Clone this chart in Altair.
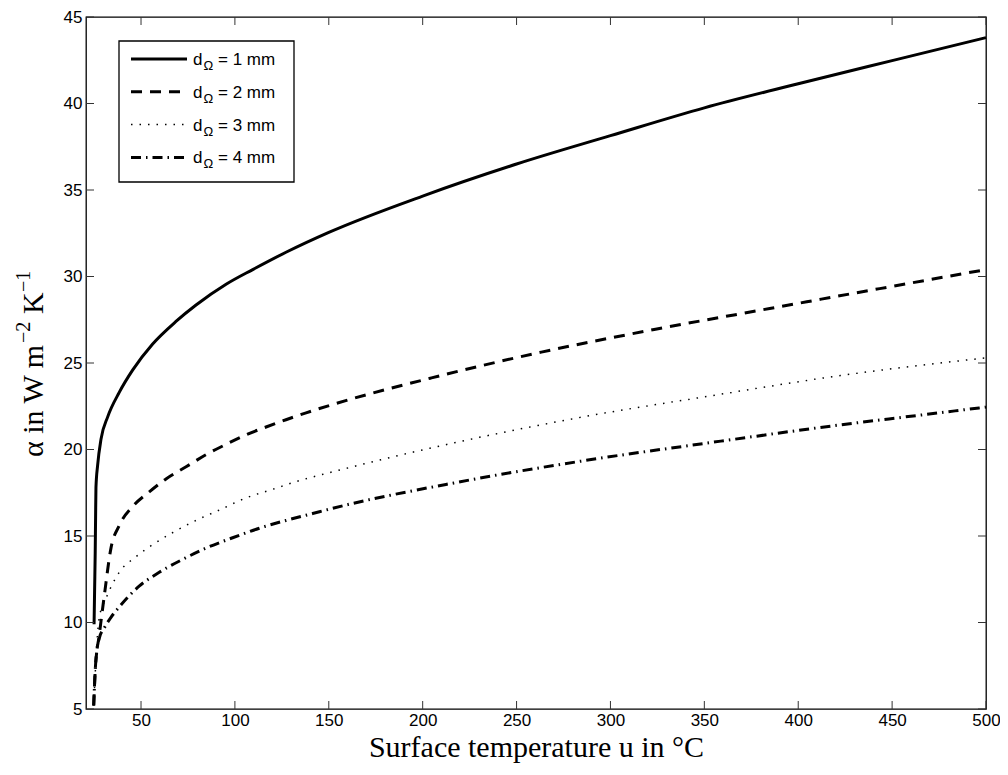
import altair as alt
import pandas as pd

# ---------------- data ----------------
x_domain = [20.7, 500]
y_domain = [5, 45]
x_ticks = [50, 100, 150, 200, 250, 300, 350, 400, 450, 500]
y_ticks = [5, 10, 15, 20, 25, 30, 35, 40, 45]

u_d1 = [25.0, 25.3, 25.6, 25.8, 26.0, 26.9, 28.7, 32.3, 38.4, 45.6, 56.2, 68.6, 79.3,
        95.3, 109.5, 127.2, 150, 200, 250, 300, 350, 400, 450, 500]
a_d1 = [9.9, 12.0, 14.0, 16.0, 17.8, 19.1, 20.6, 21.9, 23.3, 24.6, 26.1, 27.4, 28.35,
        29.55, 30.4, 31.4, 32.55, 34.65, 36.5, 38.14, 39.75, 41.14, 42.48, 43.81]

u_d2 = [24.8, 25.7, 27.8, 30.5, 34, 38.4, 46.4, 54.4, 63.3, 74, 84.6, 95.3, 105.9,
        116.6, 127.2, 137.9, 152, 204.7, 263.2, 324, 384.8, 443.4, 500]
a_d2 = [5.2, 7.4, 9.3, 11.6, 14.3, 15.6, 16.8, 17.55, 18.3, 19.0, 19.7, 20.3, 20.85,
        21.3, 21.72, 22.12, 22.6, 24.14, 25.63, 26.95, 28.15, 29.3, 30.4]

u_d3 = [24.8, 25.5, 26.5, 27.8, 31.4, 38.4, 47.3, 56.2, 66.9, 79.3, 91.7, 105.9,
        120.1, 134.3, 150.3, 218.2, 285.7, 353.3, 420.8, 500]
a_d3 = [5.2, 6.8, 8.8, 10.3, 11.4, 12.9, 13.8, 14.5, 15.2, 15.9, 16.5, 17.2,
        17.7, 18.2, 18.66, 20.42, 21.89, 23.1, 24.25, 25.3]

u_d4 = [24.8, 25.5, 26.5, 27.8, 30.5, 34, 38.4, 49, 59.7, 72.2, 84.6, 98.8, 113,
        127.2, 141.4, 152, 218.2, 285.7, 353.3, 420.8, 465.9, 500]
a_d4 = [5.2, 7.0, 8.4, 9.1, 9.7, 10.3, 10.9, 12.1, 12.9, 13.65, 14.3, 14.9, 15.45,
        15.9, 16.3, 16.6, 18.1, 19.35, 20.4, 21.4, 22.0, 22.45]

series_names = ["1 mm", "2 mm", "3 mm", "4 mm"]
legend_text = ["= 1 mm", "= 2 mm", "= 3 mm", "= 4 mm"]

frames = []
for name, u, a in zip(series_names, [u_d1, u_d2, u_d3, u_d4], [a_d1, a_d2, a_d3, a_d4]):
    frames.append(pd.DataFrame({"u": u, "alpha": a, "series": name}))
df = pd.concat(frames, ignore_index=True)

# ---------------- styling ----------------
W, H = 900, 692
TICK = 8
xs = alt.Scale(domain=x_domain, nice=False, zero=False)
ys = alt.Scale(domain=y_domain, nice=False, zero=False)

x_axis = alt.Axis(
    values=x_ticks, grid=False, ticks=False, tickSize=0, domain=False,
    labelFont="Liberation Sans", labelFontSize=17, labelColor="black",
    labelPadding=3, labelFlush=False,
    title="Surface temperature u in °C", titleFont="Liberation Serif",
    titleFontSize=30, titleFontWeight="normal", titleColor="black",
    titleBaseline="alphabetic", titleY=47, titleX=W / 2, titleAlign="center")
y_axis = alt.Axis(
    values=y_ticks, grid=False, ticks=False, tickSize=0, domain=False,
    labelFont="Liberation Sans", labelFontSize=17, labelColor="black",
    labelPadding=4, labelFlush=False, title=None)

styles = {
    "1 mm": dict(strokeWidth=3),
    "2 mm": dict(strokeWidth=3, strokeDash=[11, 8]),
    "3 mm": dict(strokeWidth=1.5, strokeDash=[1.5, 7]),
    "4 mm": dict(strokeWidth=3, strokeDash=[10, 5, 1.5, 5]),
}

one = pd.DataFrame({"k": [0]})
layers = []

# main curves
for name in series_names:
    layers.append(
        alt.Chart(df).transform_filter(alt.datum.series == name)
        .mark_line(color="black", interpolate="monotone", **styles[name])
        .encode(x=alt.X("u:Q", scale=xs, axis=x_axis),
                y=alt.Y("alpha:Q", scale=ys, axis=y_axis))
    )

# inward ticks (box style, all four sides)
xt = pd.DataFrame({"u": x_ticks})
yt = pd.DataFrame({"alpha": y_ticks})
tick_col = "#333333"
layers.append(alt.Chart(xt).mark_rule(color=tick_col, strokeWidth=1).encode(
    x=alt.X("u:Q", scale=xs, axis=x_axis), y=alt.value(H), y2=alt.value(H - TICK)))
layers.append(alt.Chart(xt).mark_rule(color=tick_col, strokeWidth=1).encode(
    x=alt.X("u:Q", scale=xs, axis=x_axis), y=alt.value(0), y2=alt.value(TICK)))
layers.append(alt.Chart(yt).mark_rule(color=tick_col, strokeWidth=1).encode(
    y=alt.Y("alpha:Q", scale=ys, axis=y_axis), x=alt.value(0), x2=alt.value(TICK)))
layers.append(alt.Chart(yt).mark_rule(color=tick_col, strokeWidth=1).encode(
    y=alt.Y("alpha:Q", scale=ys, axis=y_axis), x=alt.value(W), x2=alt.value(W - TICK)))

# legend box
layers.append(alt.Chart(one).mark_rect(fill="white", stroke="black", strokeWidth=1.3).encode(
    x=alt.value(33), x2=alt.value(208), y=alt.value(24), y2=alt.value(165)))
row_y = [42, 74.8, 107.6, 140.4]
for name, txt, ry in zip(series_names, legend_text, row_y):
    layers.append(alt.Chart(one).mark_rule(color="black", **styles[name]).encode(
        x=alt.value(45), x2=alt.value(101), y=alt.value(ry)))
    layers.append(alt.Chart(one).mark_text(
        font="Liberation Sans", fontSize=17, align="left", baseline="alphabetic",
        color="black").encode(x=alt.value(107), y=alt.value(ry + 6), text=alt.value("d")))
    layers.append(alt.Chart(one).mark_text(
        font="Liberation Sans", fontSize=13, align="left", baseline="alphabetic",
        color="black").encode(x=alt.value(117.5), y=alt.value(ry + 11), text=alt.value("Ω")))
    layers.append(alt.Chart(one).mark_text(
        font="Liberation Sans", fontSize=17, align="left", baseline="alphabetic",
        color="black").encode(x=alt.value(132), y=alt.value(ry + 6), text=alt.value(txt)))

# y-axis title with superscripts, rotated
title_parts = [
    ("α in W m", 30, -43, 440),
    ("−2", 20, -56, 326),
    ("K", 30, -43, 297),
    ("−1", 20, -56, 275),
]
for txt, fs, px, py in title_parts:
    layers.append(alt.Chart(one).mark_text(
        font="Liberation Serif", fontSize=fs, align="left", baseline="alphabetic",
        angle=270, color="black").encode(x=alt.value(px), y=alt.value(py), text=alt.value(txt)))

chart = alt.layer(*layers).properties(
    width=W, height=H,
    autosize=alt.AutoSizeParams(type="none"),
    padding={"left": 78, "top": 9, "right": 14, "bottom": 56},
    background="white",
).configure_view(stroke="black", strokeWidth=1.3)

chart.save("out.html", embed_options={"renderer": "svg", "actions": False})
